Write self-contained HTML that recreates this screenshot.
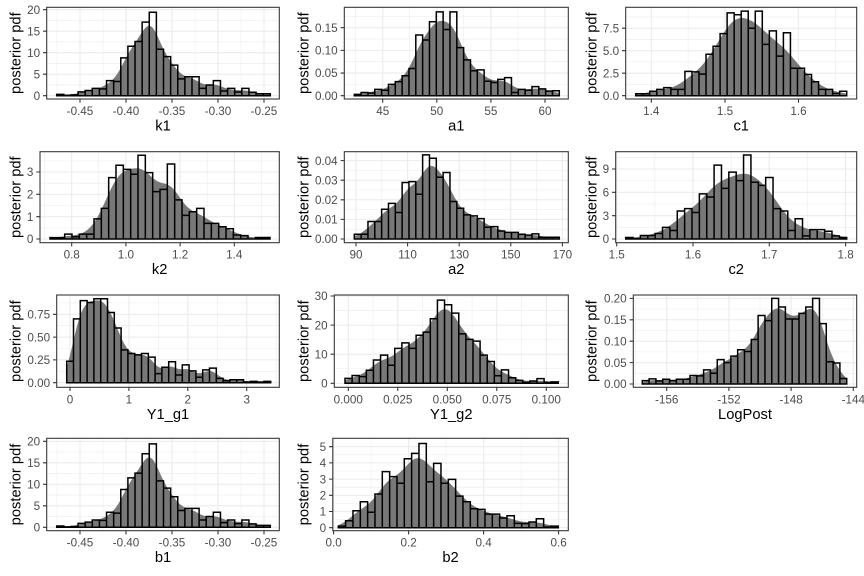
<!DOCTYPE html>
<html><head><meta charset="utf-8">
<style>
html,body{margin:0;padding:0;background:#fff;}
svg{display:block;}
.tl{font-family:"Liberation Sans",sans-serif;font-size:11.7px;fill:#4d4d4d;}
.ti{font-family:"Liberation Sans",sans-serif;font-size:14.7px;fill:#000;}
</style></head>
<body>
<svg id="s" width="864" height="576" viewBox="0 0 864 576" xmlns="http://www.w3.org/2000/svg">
<rect x="0" y="0" width="864" height="576" fill="#fff"/>
<g id="g"></g>
<g id="txt">
<!-- P1 k1 -->
<g class="tl" text-anchor="end">
<text x="40.1" y="99.9">0</text><text x="40.1" y="78.4">5</text><text x="40.1" y="56.9">10</text><text x="40.1" y="35.4">15</text><text x="40.1" y="13.9">20</text>
</g>
<g class="tl" text-anchor="middle">
<text x="80" y="115">-0.45</text><text x="126" y="115">-0.40</text><text x="172" y="115">-0.35</text><text x="218" y="115">-0.30</text><text x="264" y="115">-0.25</text>
</g>
<text class="ti" x="163" y="130.5" text-anchor="middle">k1</text>
<text class="ti" x="20.3" y="53.15" text-anchor="middle" transform="rotate(-90 20.3 53.15)">posterior pdf</text>

<!-- P2 a1 -->
<g class="tl" text-anchor="end">
<text x="337.7" y="99.9">0.00</text><text x="337.7" y="77.2">0.05</text><text x="337.7" y="54.6">0.10</text><text x="337.7" y="31.9">0.15</text>
</g>
<g class="tl" text-anchor="middle">
<text x="382.7" y="115">45</text><text x="436.8" y="115">50</text><text x="490.9" y="115">55</text><text x="545" y="115">60</text>
</g>
<text class="ti" x="456.3" y="130.5" text-anchor="middle">a1</text>
<text class="ti" x="308.3" y="53.15" text-anchor="middle" transform="rotate(-90 308.3 53.15)">posterior pdf</text>

<!-- P3 c1 -->
<g class="tl" text-anchor="end">
<text x="619.1" y="99.9">0.0</text><text x="619.1" y="77.4">2.5</text><text x="619.1" y="54.9">5.0</text><text x="619.1" y="32.4">7.5</text>
</g>
<g class="tl" text-anchor="middle">
<text x="651.3" y="115">1.4</text><text x="725" y="115">1.5</text><text x="798.5" y="115">1.6</text>
</g>
<text class="ti" x="741.2" y="130.5" text-anchor="middle">c1</text>
<text class="ti" x="596.3" y="53.15" text-anchor="middle" transform="rotate(-90 596.3 53.15)">posterior pdf</text>

<!-- P4 k2 -->
<g class="tl" text-anchor="end">
<text x="33.4" y="243.2">0</text><text x="33.4" y="220.9">1</text><text x="33.4" y="198.5">2</text><text x="33.4" y="176.2">3</text>
</g>
<g class="tl" text-anchor="middle">
<text x="71.7" y="258.7">0.8</text><text x="125.9" y="258.7">1.0</text><text x="180.1" y="258.7">1.2</text><text x="234.3" y="258.7">1.4</text>
</g>
<text class="ti" x="159.65" y="274.2" text-anchor="middle">k2</text>
<text class="ti" x="20.3" y="197.2" text-anchor="middle" transform="rotate(-90 20.3 197.2)">posterior pdf</text>

<!-- P5 a2 -->
<g class="tl" text-anchor="end">
<text x="337.7" y="243.2">0.00</text><text x="337.7" y="223.6">0.01</text><text x="337.7" y="204">0.02</text><text x="337.7" y="184.4">0.03</text><text x="337.7" y="164.8">0.04</text>
</g>
<g class="tl" text-anchor="middle">
<text x="356" y="258.7">90</text><text x="407.6" y="258.7">110</text><text x="459.2" y="258.7">130</text><text x="510.8" y="258.7">150</text><text x="562.4" y="258.7">170</text>
</g>
<text class="ti" x="456.3" y="274.2" text-anchor="middle">a2</text>
<text class="ti" x="308.3" y="197.2" text-anchor="middle" transform="rotate(-90 308.3 197.2)">posterior pdf</text>

<!-- P6 c2 -->
<g class="tl" text-anchor="end">
<text x="609.1" y="243.2">0</text><text x="609.1" y="219.9">3</text><text x="609.1" y="196.5">6</text><text x="609.1" y="173.2">9</text>
</g>
<g class="tl" text-anchor="middle">
<text x="616.7" y="258.7">1.5</text><text x="693" y="258.7">1.6</text><text x="769.3" y="258.7">1.7</text><text x="845.6" y="258.7">1.8</text>
</g>
<text class="ti" x="736.2" y="274.2" text-anchor="middle">c2</text>
<text class="ti" x="596.3" y="197.2" text-anchor="middle" transform="rotate(-90 596.3 197.2)">posterior pdf</text>

<!-- P7 Y1_g1 -->
<g class="tl" text-anchor="end">
<text x="50.1" y="386.9">0.00</text><text x="50.1" y="364.1">0.25</text><text x="50.1" y="341.3">0.50</text><text x="50.1" y="318.5">0.75</text>
</g>
<g class="tl" text-anchor="middle">
<text x="70" y="403.3">0</text><text x="128.9" y="403.3">1</text><text x="187.8" y="403.3">2</text><text x="246.7" y="403.3">3</text>
</g>
<text class="ti" x="168" y="418.8" text-anchor="middle">Y1_g1</text>
<text class="ti" x="20.3" y="341.15" text-anchor="middle" transform="rotate(-90 20.3 341.15)">posterior pdf</text>

<!-- P8 Y1_g2 -->
<g class="tl" text-anchor="end">
<text x="327.7" y="387.5">0</text><text x="327.7" y="358.4">10</text><text x="327.7" y="329.3">20</text><text x="327.7" y="300.2">30</text>
</g>
<g class="tl" text-anchor="middle">
<text x="348.3" y="403.3">0.000</text><text x="397.8" y="403.3">0.025</text><text x="447.3" y="403.3">0.050</text><text x="496.8" y="403.3">0.075</text><text x="546.3" y="403.3">0.100</text>
</g>
<text class="ti" x="451.3" y="418.8" text-anchor="middle">Y1_g2</text>
<text class="ti" x="308.3" y="341.15" text-anchor="middle" transform="rotate(-90 308.3 341.15)">posterior pdf</text>

<!-- P9 LogPost -->
<g class="tl" text-anchor="end">
<text x="626.7" y="388.2">0.00</text><text x="626.7" y="366.8">0.05</text><text x="626.7" y="345.4">0.10</text><text x="626.7" y="324">0.15</text><text x="626.7" y="302.6">0.20</text>
</g>
<g class="tl" text-anchor="middle">
<text x="666.7" y="403.3">-156</text><text x="728.9" y="403.3">-152</text><text x="791.1" y="403.3">-148</text><text x="853.3" y="403.3">-144</text>
</g>
<text class="ti" x="745" y="418.8" text-anchor="middle">LogPost</text>
<text class="ti" x="596.3" y="341.15" text-anchor="middle" transform="rotate(-90 596.3 341.15)">posterior pdf</text>

<!-- P10 b1 -->
<g class="tl" text-anchor="end">
<text x="40.1" y="531.5">0</text><text x="40.1" y="510">5</text><text x="40.1" y="488.5">10</text><text x="40.1" y="467">15</text><text x="40.1" y="445.5">20</text>
</g>
<g class="tl" text-anchor="middle">
<text x="80" y="546.7">-0.45</text><text x="126" y="546.7">-0.40</text><text x="172" y="546.7">-0.35</text><text x="218" y="546.7">-0.30</text><text x="264" y="546.7">-0.25</text>
</g>
<text class="ti" x="163" y="562.2" text-anchor="middle">b1</text>
<text class="ti" x="20.3" y="484.5" text-anchor="middle" transform="rotate(-90 20.3 484.5)">posterior pdf</text>

<!-- P11 b2 -->
<g class="tl" text-anchor="end">
<text x="326.2" y="531.9">0</text><text x="326.2" y="515.7">1</text><text x="326.2" y="499.5">2</text><text x="326.2" y="483.3">3</text><text x="326.2" y="467.1">4</text><text x="326.2" y="450.9">5</text>
</g>
<g class="tl" text-anchor="middle">
<text x="333.6" y="546.7">0.0</text><text x="408.6" y="546.7">0.2</text><text x="483.6" y="546.7">0.4</text><text x="558.6" y="546.7">0.6</text>
</g>
<text class="ti" x="450.5" y="562.2" text-anchor="middle">b2</text>
<text class="ti" x="308.3" y="484.5" text-anchor="middle" transform="rotate(-90 308.3 484.5)">posterior pdf</text>
</g>
</svg>
<script>
(function(){
var K1=[0.3,0.1,0.2,0.9,1.2,1.7,1.6,3.5,3.3,8.8,11.5,12.6,17.1,19.4,10.8,9.1,7.1,3.9,4.4,4.4,1.7,2.5,3.5,1.1,1.7,0.85,1.7,0.8,0.45,0.45];
var P=[
{L:46.7,R:279.3,T:7.3,B:99,xt:[80,126,172,218,264],xm:[57,103,149,195,241],y0:95.7,k:4.3,yt:[0,5,10,15,20],ym:[2.5,7.5,12.5,17.5],bx0:56.7,bx1:270.3,s:1.0,h:K1},
{L:344.3,R:568.3,T:7.3,B:99,xt:[382.7,436.8,490.9,545],xm:[355.6,409.7,463.8,517.9],y0:95.7,k:453.3,yt:[0,0.05,0.1,0.15],ym:[0.025,0.075,0.125,0.175],bx0:354.3,bx1:559.3,s:1.1,
 h:[0.003,0.007,0.006,0.014,0.012,0.025,0.031,0.044,0.060,0.134,0.123,0.163,0.185,0.146,0.185,0.106,0.079,0.055,0.057,0.032,0.029,0.036,0.040,0.007,0.014,0.012,0.020,0.015,0.010,0.011]},
{L:625.7,R:856.7,T:7.3,B:99,xt:[651.3,725,798.5],xm:[688.1,761.8,835.3],y0:95.7,k:9,yt:[0,2.5,5,7.5],ym:[1.25,3.75,6.25,8.75],bx0:635.7,bx1:846.7,s:1.5,
 h:[0.22,0.22,0.5,0.7,0.9,0.7,0.7,2.7,2.65,2.4,4.6,5.5,6.9,9.2,9.0,9.4,7.5,9.4,5.7,7.2,4.4,7.0,3.05,3.05,2.35,1.55,0.7,0.7,0.25,0.5]},
{L:40,R:279.3,T:151.7,B:242.7,xt:[71.7,125.9,180.1,234.3],xm:[44.6,98.8,153,207.2,261.4],y0:239,k:22.33,yt:[0,1,2,3],ym:[0.5,1.5,2.5,3.5],bx0:50,bx1:270,s:1.3,
 h:[0.06,0.06,0.22,0.1,0.22,0.22,0.9,1.37,2.75,3.3,3.12,2.9,3.75,2.97,2.12,2.22,3.36,1.75,1.06,1.22,1.37,0.7,0.7,0.55,0.46,0.18,0.15,0,0.07,0.07]},
{L:344.3,R:568.3,T:151.7,B:242.7,xt:[356,407.6,459.2,510.8,562.4],xm:[381.8,433.4,485,536.6],y0:239,k:1960,yt:[0,0.01,0.02,0.03,0.04],ym:[0.005,0.015,0.025,0.035],bx0:354.3,bx1:559.3,s:1.1,
 h:[0.0024,0.0024,0.0089,0.0089,0.0152,0.0182,0.0135,0.0288,0.0293,0.0228,0.0429,0.0412,0.0315,0.0339,0.0191,0.0157,0.0123,0.0118,0.0104,0.006,0.0063,0.0041,0.0034,0.0034,0.0024,0.002,0.0026,0.0009,0.0009,0.0009]},
{L:615.7,R:856.7,T:151.7,B:242.7,xt:[616.7,693,769.3,845.6],xm:[654.85,731.15,807.45],y0:239,k:7.78,yt:[0,3,6,9],ym:[1.5,4.5,7.5,10.5],bx0:625.7,bx1:846.7,s:1.5,
 h:[0.2,0.05,0.45,0.45,0.7,1.5,1.1,3.6,3.9,3.4,5.8,5.4,9.5,6.5,8.6,7.5,10.8,7.3,6.9,7.9,3.9,3.6,1.1,2.6,0.4,1.2,1.2,1.0,0.4,0.2]},
{L:56.7,R:279.3,T:295,B:387.3,xt:[70,128.9,187.8,246.7],xm:[99.45,158.35,217.25,276.15],y0:382.7,k:91.2,yt:[0,0.25,0.5,0.75],ym:[0.125,0.375,0.625,0.875],bx0:66.7,bx1:270.7,s:0.9,
 h:[0.235,0.70,0.90,0.88,0.92,0.92,0.77,0.60,0.36,0.32,0.305,0.32,0.28,0.10,0.17,0.23,0.085,0.195,0.13,0.06,0.14,0.16,0.048,0.022,0.033,0.033,0.008,0.015,0.008,0.015]},
{L:334.3,R:568.3,T:295,B:387.3,xt:[348.3,397.8,447.3,496.8,546.3],xm:[373.05,422.55,472.05,521.55],y0:383.3,k:2.91,yt:[0,10,20,30],ym:[5,15,25],bx0:345,bx1:558.3,s:1.2,
 h:[1.7,2.7,2.3,4.5,8.0,9.7,6.2,12.0,13.9,12.0,16.5,17.6,22.2,28.6,27.0,24.1,17.0,15.1,14.5,9.7,7.5,2.6,4.6,1.9,1.0,0.3,0.8,1.6,0.3,0.5]},
{L:633.3,R:856.7,T:295,B:387.3,xt:[666.7,728.9,791.1,853.3],xm:[635.6,697.8,760,822.2],y0:384,k:428,yt:[0,0.05,0.1,0.15,0.2],ym:[0.025,0.075,0.125,0.175],bx0:642.3,bx1:846.7,s:1.1,
 h:[0.008,0.012,0.007,0.011,0.008,0.011,0.011,0.02,0.019,0.033,0.025,0.057,0.05,0.065,0.08,0.076,0.104,0.16,0.148,0.20,0.18,0.152,0.152,0.165,0.18,0.20,0.141,0.052,0.049,0.013]},
{L:46.7,R:279.3,T:438.3,B:530.7,xt:[80,126,172,218,264],xm:[57,103,149,195,241],y0:527.3,k:4.3,yt:[0,5,10,15,20],ym:[2.5,7.5,12.5,17.5],bx0:56.7,bx1:270.3,s:1.0,h:K1},
{L:332.8,R:568.3,T:438.3,B:530.7,xt:[333.6,408.6,483.6,558.6],xm:[371.1,446.1,521.1],y0:527.7,k:16.2,yt:[0,1,2,3,4,5],ym:[0.5,1.5,2.5,3.5,4.5],bx0:338.3,bx1:558.3,s:1.3,
 h:[0.1,0.43,1.05,1.6,0.95,2.08,3.46,3.15,2.74,4.26,4.59,5.2,2.84,3.97,2.74,2.98,1.95,1.6,1.17,1.13,0.84,0.84,0.6,0.74,0.27,0.25,0.35,0.55,0.04,0.1]}
];
var NS="http://www.w3.org/2000/svg";
var g=document.getElementById('g');
function el(t,a){var e=document.createElementNS(NS,t);for(var k in a)e.setAttribute(k,a[k]);g.appendChild(e);return e;}
function f2(v){return Math.round(v*100)/100;}
P.forEach(function(p){
  el('rect',{x:p.L,y:p.T,width:f2(p.R-p.L),height:f2(p.B-p.T),fill:'#fff'});
  var d='';
  p.xm.forEach(function(x){if(x>p.L&&x<p.R)d+='M'+x+' '+p.T+'V'+p.B;});
  p.ym.forEach(function(v){var y=f2(p.y0-v*p.k);if(y>p.T&&y<p.B)d+='M'+p.L+' '+y+'H'+p.R;});
  el('path',{d:d,stroke:'#ebebeb','stroke-width':0.55,fill:'none'});
  d='';
  p.xt.forEach(function(x){if(x>=p.L&&x<=p.R)d+='M'+x+' '+p.T+'V'+p.B;});
  p.yt.forEach(function(v){var y=f2(p.y0-v*p.k);d+='M'+p.L+' '+y+'H'+p.R;});
  el('path',{d:d,stroke:'#ebebeb','stroke-width':1.07,fill:'none'});
  // density
  var n=p.h.length,w=(p.bx1-p.bx0)/n,sig=p.s*w;
  var dd='M'+p.bx0+' '+p.y0;
  for(var x=p.bx0;x<=p.bx1+0.001;x+=0.5){
    var f=0;
    for(var i=0;i<n;i++){var c=p.bx0+(i+0.5)*w;var z=(x-c)/sig;f+=p.h[i]*Math.exp(-0.5*z*z);}
    f*=w/(sig*Math.sqrt(2*Math.PI));
    dd+='L'+f2(x)+' '+f2(p.y0-f*p.k);
  }
  dd+='L'+p.bx1+' '+p.y0+'Z';
  el('path',{d:dd,fill:'#787878'});
  // bars
  d='';
  for(var j=0;j<n;j++){
    var x0=f2(p.bx0+j*w),x1=f2(p.bx0+(j+1)*w),yt=f2(p.y0-p.h[j]*p.k);
    d+='M'+x0+' '+p.y0+'V'+yt+'H'+x1+'V'+p.y0+'Z';
  }
  el('path',{d:d,fill:'none',stroke:'#000','stroke-width':1.5,'stroke-linejoin':'miter'});
  // border
  el('rect',{x:p.L,y:p.T,width:f2(p.R-p.L),height:f2(p.B-p.T),fill:'none',stroke:'#333','stroke-width':1.07});
  // ticks
  d='';
  p.xt.forEach(function(x){d+='M'+x+' '+p.B+'V'+f2(p.B+3.7);});
  p.yt.forEach(function(v){var y=f2(p.y0-v*p.k);d+='M'+f2(p.L-3.7)+' '+y+'H'+p.L;});
  el('path',{d:d,stroke:'#333','stroke-width':1.07,fill:'none'});
});
})();
</script>
</body></html>
